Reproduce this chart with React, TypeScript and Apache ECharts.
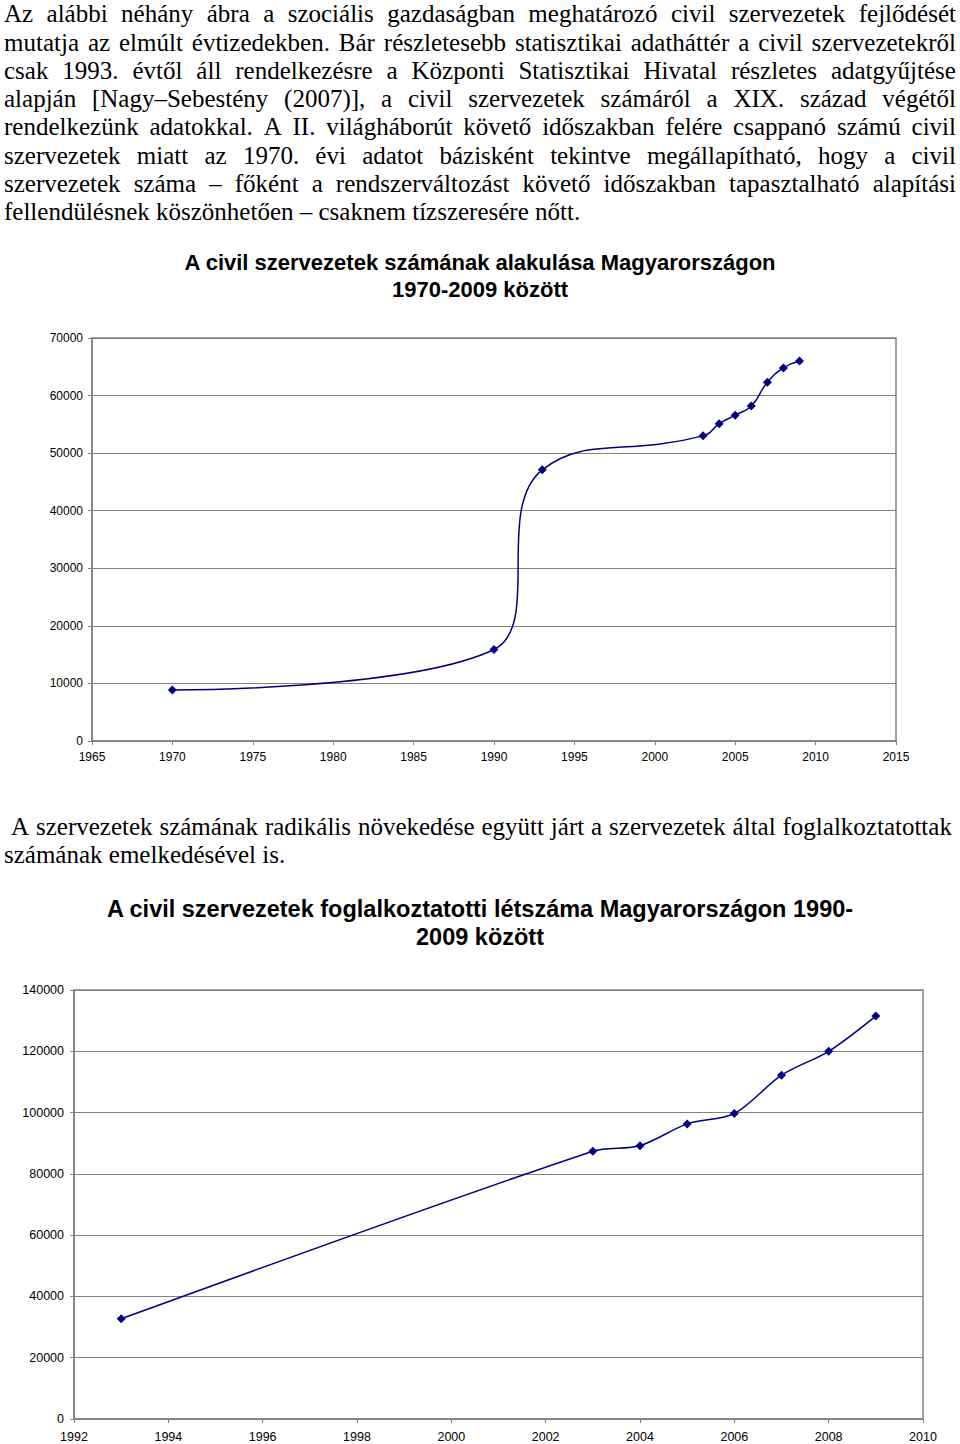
import React, { useEffect, useRef } from "react";
import * as echarts from "echarts";

// ---- Text content ----
const para1Lines = [
  "Az alábbi néhány ábra a szociális gazdaságban meghatározó civil szervezetek fejlődését",
  "mutatja az elmúlt évtizedekben. Bár részletesebb statisztikai adatháttér a civil szervezetekről",
  "csak 1993. évtől áll rendelkezésre a Központi Statisztikai Hivatal részletes adatgyűjtése",
  "alapján [Nagy–Sebestény (2007)], a civil szervezetek számáról a XIX. század végétől",
  "rendelkezünk adatokkal. A II. világháborút követő időszakban felére csappanó számú civil",
  "szervezetek miatt az 1970. évi adatot bázisként tekintve megállapítható, hogy a civil",
  "szervezetek száma – főként a rendszerváltozást követő időszakban tapasztalható alapítási",
  "fellendülésnek köszönhetően – csaknem tízszeresére nőtt.",
];
const para2Lines = [
  "A szervezetek számának radikális növekedése együtt járt a szervezetek által foglalkoztatottak",
  "számának emelkedésével is.",
];

const title1Lines = ["A civil szervezetek számának alakulása Magyarországon", "1970-2009 között"];
const title2Lines = ["A civil szervezetek foglalkoztatotti létszáma Magyarországon 1990-", "2009 között"];

// ---- Chart 1 data: number of civil organisations ----
const years1 = [1970, 1990, 1993, 2003, 2004, 2005, 2006, 2007, 2008, 2009];
const organisations = [8850, 15900, 47100, 53000, 55100, 56600, 58200, 62300, 64800, 66000];

// ---- Chart 2 data: employees of civil organisations ----
const years2 = [1993, 2003, 2004, 2005, 2006, 2007, 2008, 2009];
const employees = [32700, 87400, 89200, 96300, 99700, 112200, 120000, 131500];

const SANS = "'Liberation Sans', Arial, sans-serif";
const SERIF = "'Liberation Serif', 'Times New Roman', serif";
const GRAY = "#828282";
const NAVY = "#000080";

function JustLine({ text, top, left, right, justify }: { text: string; top: number; left: number; right: number; justify: boolean }) {
  const words = text.split(" ");
  return (
    <div
      style={{
        position: "absolute",
        top,
        left,
        width: right - left,
        height: 22,
        lineHeight: "22px",
        fontFamily: SERIF,
        fontSize: 25,
        color: "#000",
        whiteSpace: "nowrap",
        display: justify ? "flex" : "block",
        justifyContent: "space-between",
      }}
    >
      {justify ? words.map((w, i) => <span key={i}>{w}</span>) : text}
    </div>
  );
}

function makeAxes(min: number, max: number, interval: number, ymax: number, yint: number, gridIndex: number, labelMargin: number, fontSize: number, yMargin: number) {
  return {
    x: {
      type: "value",
      gridIndex,
      min,
      max,
      interval,
      axisLine: { show: true, lineStyle: { color: GRAY, width: 1.5 } },
      axisTick: { show: true, length: 4, lineStyle: { color: GRAY } },
      axisLabel: {
        color: "#000",
        fontFamily: SANS,
        fontSize,
        margin: labelMargin,
        showMinLabel: true,
        showMaxLabel: true,
        hideOverlap: false,
        formatter: (v: number) => String(v),
      },
      splitLine: { show: false },
    },
    y: {
      type: "value",
      gridIndex,
      min: 0,
      max: ymax,
      interval: yint,
      axisLine: { show: true, lineStyle: { color: GRAY, width: 1.5 } },
      axisTick: { show: true, length: 4, lineStyle: { color: GRAY } },
      axisLabel: {
        color: "#000",
        fontFamily: SANS,
        fontSize,
        margin: yMargin,
        formatter: (v: number) => String(v),
      },
      splitLine: { show: true, lineStyle: { color: GRAY, width: 1 } },
    },
  };
}

export default function App() {
  const ref = useRef<HTMLDivElement>(null);

  useEffect(() => {
    document.body.style.margin = "0";
    if (!ref.current) return;
    const chart = echarts.init(ref.current, null, { renderer: "svg" });
    const a1 = makeAxes(1965, 2015, 5, 70000, 10000, 0, 10, 12, 9);
    const a2 = makeAxes(1992, 2010, 2, 140000, 20000, 1, 11, 12.5, 10);

    const titleText = (text: string, y: number, size: number) => ({
      type: "text",
      x: 480,
      y,
      style: {
        text,
        align: "center",
        verticalAlign: "middle",
        fontFamily: SANS,
        fontSize: size,
        fontWeight: "bold",
        fill: "#000",
      },
    });

    chart.setOption({
      animation: false,
      backgroundColor: "#fff",
      grid: [
        { left: 92, top: 338, width: 804, height: 403, show: true, borderColor: GRAY, borderWidth: 1.5, containLabel: false },
        { left: 74, top: 990, width: 849, height: 429, show: true, borderColor: GRAY, borderWidth: 1.5, containLabel: false },
      ],
      xAxis: [a1.x, a2.x],
      yAxis: [a1.y, a2.y],
      graphic: [
        titleText(title1Lines[0], 262, 22),
        titleText(title1Lines[1], 289, 22),
        titleText(title2Lines[0], 909, 23.5),
        titleText(title2Lines[1], 937, 23.5),
      ],
      series: [
        {
          type: "line",
          xAxisIndex: 0,
          yAxisIndex: 0,
          data: years1.map((y, i) => [y, organisations[i]]),
          smooth: 0.5,
          symbol: "diamond",
          symbolSize: 9,
          lineStyle: { color: NAVY, width: 1.5 },
          itemStyle: { color: NAVY },
        },
        {
          type: "line",
          xAxisIndex: 1,
          yAxisIndex: 1,
          data: years2.map((y, i) => [y, employees[i]]),
          smooth: 0.3,
          symbol: "diamond",
          symbolSize: 9,
          lineStyle: { color: NAVY, width: 1.5 },
          itemStyle: { color: NAVY },
        },
      ],
    });
    return () => chart.dispose();
  }, []);

  const pitch = 28.3;
  return (
    <div style={{ position: "relative", width: 960, height: 1444, background: "#fff", overflow: "hidden" }}>
      <div ref={ref} style={{ position: "absolute", left: 0, top: 0, width: 960, height: 1444 }} />
      {para1Lines.map((t, i) => (
        <JustLine key={"p1" + i} text={t} top={3.2 + i * pitch} left={4} right={956} justify={i < para1Lines.length - 1} />
      ))}
      <JustLine text={para2Lines[0]} top={815.5} left={11} right={952} justify={true} />
      <JustLine text={para2Lines[1]} top={844} left={4} right={956} justify={false} />
    </div>
  );
}
